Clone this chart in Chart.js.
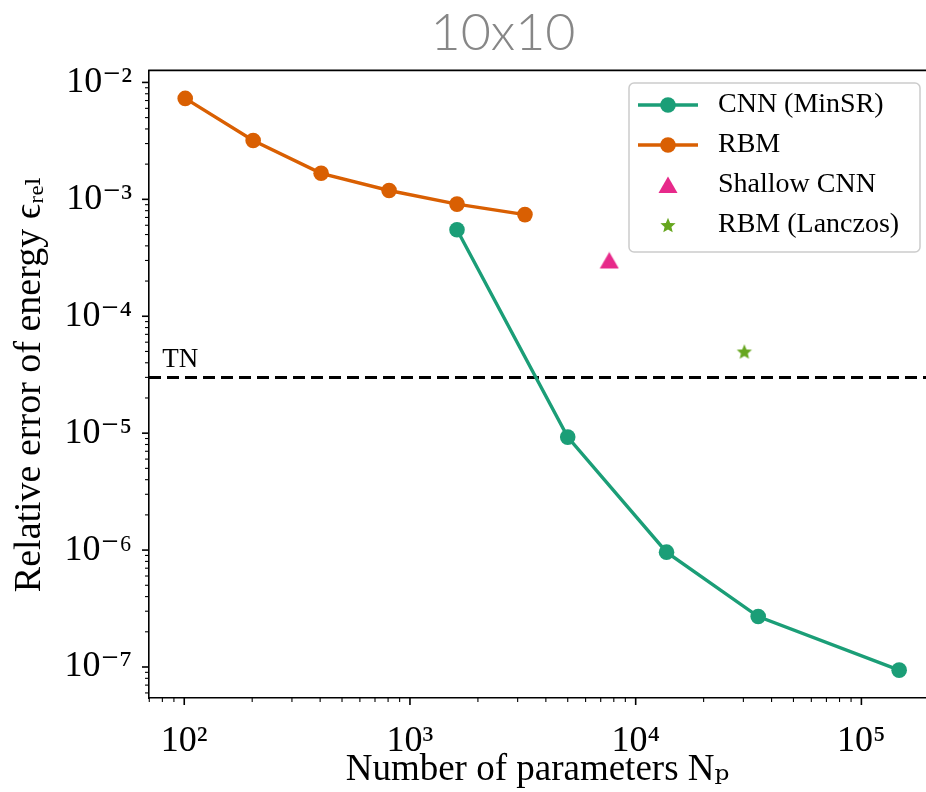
<!DOCTYPE html>
<html><head><meta charset="utf-8">
<script src="https://cdn.jsdelivr.net/npm/chart.js@4.4.0/dist/chart.umd.min.js"></script>
<style>
html,body{margin:0;padding:0;background:#fff;overflow:hidden;}
canvas{display:block;}
</style></head><body>
<canvas id="c" width="926" height="792" style="width:926px;height:792px;"></canvas>
<script>
// ---- data ----
const seriesNames = ['CNN (MinSR)', 'RBM', 'Shallow CNN', 'RBM (Lanczos)'];
const cnnParams = [1616, 5000, 13700, 34900, 147000];
const cnnError = [5.5e-4, 9.25e-6, 9.6e-7, 2.7e-7, 9.4e-8];
const rbmParams = [101, 202, 404, 808, 1616, 3232];
const rbmError = [7.3e-3, 3.19e-3, 1.67e-3, 1.19e-3, 9.1e-4, 7.4e-4];
const shallowParams = [7640];
const shallowError = [3.0e-4];
const lanczosParams = [30300];
const lanczosError = [5.0e-5];
const tnLabel = 'TN';
const tnError = 3e-5;
const xTickValues = [1e2, 1e3, 1e4, 1e5];
const xTickLabels = ['10²', '10³', '10⁴', '10⁵'];
const yTickValues = [1e-7, 1e-6, 1e-5, 1e-4, 1e-3, 1e-2];
const yTickLabels = ['10⁻⁷', '10⁻⁶', '10⁻⁵', '10⁻⁴', '10⁻³', '10⁻²'];
const xRange = [69.8, 193300];
const yRange = [5.43e-8, 1.267e-2];
const titleText = '10x10';
const xTitle = 'Number of parameters Nₚ';
const yTitle = 'Relative error of energy ϵᵣₑₗ';

const colors = ['#1b9e77', '#d95f02', '#e7298a', '#66a61e'];
const SERIF = '"Liberation Serif", "DejaVu Serif", serif';

function logTicks(majors, min, max) {
  const out = [];
  for (let d = majors[0] / 10; d <= majors[majors.length - 1] * 1.001; d *= 10) {
    for (let k = 1; k <= 9; k++) {
      const v = +(k * d).toPrecision(8);
      if (v >= min && v <= max) out.push({value: v, major: k === 1});
    }
  }
  return out;
}
function labelFor(values, labels, v) {
  for (let i = 0; i < values.length; i++) if (Math.abs(values[i] / v - 1) < 1e-6) return labels[i];
  return '';
}
function mk(w, h) { const c = document.createElement('canvas'); c.width = w; c.height = h; return c; }
function lineMarker(color) {
  const c = mk(62, 18), g = c.getContext('2d');
  g.strokeStyle = color; g.lineWidth = 3.4;
  g.beginPath(); g.moveTo(1, 9); g.lineTo(61, 9); g.stroke();
  g.fillStyle = color; g.beginPath(); g.arc(31, 9, 7.8, 0, Math.PI * 2); g.fill();
  return c;
}
function triMarker(color) {
  const c = mk(20, 18), g = c.getContext('2d');
  g.fillStyle = color; g.beginPath(); g.moveTo(10, 0.5); g.lineTo(19.5, 17); g.lineTo(0.5, 17); g.closePath(); g.fill();
  return c;
}
function starMarker(color) {
  const R = 8, r = R * 0.45, s = 18, c = mk(s, s), g = c.getContext('2d');
  g.fillStyle = color; g.translate(s / 2, s / 2 + 0.8); g.beginPath();
  for (let i = 0; i < 10; i++) {
    const a = -Math.PI / 2 + i * Math.PI / 5, rr = i % 2 ? r : R;
    const px = Math.cos(a) * rr, py = Math.sin(a) * rr;
    i ? g.lineTo(px, py) : g.moveTo(px, py);
  }
  g.closePath(); g.fill();
  return c;
}
const triImg = triMarker(colors[2]);
const starImg = starMarker(colors[3]);
const legendImgs = [lineMarker(colors[0]), lineMarker(colors[1]), triImg, starImg];

function placeBlocks(chart) {
  const lg = chart.legend;
  if (lg) {
    const w = lg.width;
    lg.left = 620; lg.top = 79; lg.right = Math.min(chart.width, lg.left + w + 30); lg.bottom = lg.top + 200;
  }
  const tb = chart.titleBlock;
  if (tb) { tb.left = 80; tb.right = chart.width; }
}

const decor = {
  id: 'decor',
  afterLayout(chart) { placeBlocks(chart); },
  beforeDraw(chart) {
    placeBlocks(chart);
    const ctx = chart.ctx;
    ctx.save();
    ctx.fillStyle = '#fff'; ctx.fillRect(0, 0, chart.width, chart.height);
    const lg = chart.legend;
    const x = lg.left + 9, y = lg.top + 4, w = 291, h = 169, r = 5;
    ctx.beginPath();
    ctx.moveTo(x + r, y); ctx.lineTo(x + w - r, y); ctx.arcTo(x + w, y, x + w, y + r, r);
    ctx.lineTo(x + w, y + h - r); ctx.arcTo(x + w, y + h, x + w - r, y + h, r);
    ctx.lineTo(x + r, y + h); ctx.arcTo(x, y + h, x, y + h - r, r);
    ctx.lineTo(x, y + r); ctx.arcTo(x, y, x + r, y, r); ctx.closePath();
    ctx.fillStyle = 'rgba(255,255,255,0.8)'; ctx.fill();
    ctx.strokeStyle = '#cccccc'; ctx.lineWidth = 1.5; ctx.stroke();
    ctx.restore();
  },
  afterDraw(chart) {
    const ctx = chart.ctx, {left, right, top, bottom} = chart.chartArea;
    const xs = chart.scales.x, ys = chart.scales.y;
    ctx.save();
    ctx.strokeStyle = '#000';
    ctx.lineWidth = 1.6;
    ctx.beginPath(); ctx.moveTo(left - 0.8, top); ctx.lineTo(right, top); ctx.stroke();
    xs.ticks.forEach(t => {
      const p = xs.getPixelForValue(t.value);
      ctx.lineWidth = t.major ? 1.6 : 1.1;
      ctx.beginPath(); ctx.moveTo(p, bottom); ctx.lineTo(p, bottom + (t.major ? 7 : 4)); ctx.stroke();
    });
    ys.ticks.forEach(t => {
      const p = ys.getPixelForValue(t.value);
      ctx.lineWidth = t.major ? 1.6 : 1.1;
      ctx.beginPath(); ctx.moveTo(left, p); ctx.lineTo(left - (t.major ? 7 : 4), p); ctx.stroke();
    });
    ctx.fillStyle = '#000';
    ctx.font = '27px ' + SERIF;
    ctx.textAlign = 'left'; ctx.textBaseline = 'alphabetic';
    ctx.fillText(tnLabel, xs.getPixelForValue(80), ys.getPixelForValue(tnError) - 10);
    ctx.restore();
  }
};

const pts = (xs, ys) => xs.map((x, i) => ({x, y: ys[i]}));

new Chart(document.getElementById('c'), {
  type: 'line',
  data: {
    datasets: [
      {label: seriesNames[0], data: pts(cnnParams, cnnError), borderColor: colors[0], backgroundColor: colors[0],
       borderWidth: 3.4, pointRadius: 7.8, pointHoverRadius: 7.8, pointBorderWidth: 0, tension: 0},
      {label: seriesNames[1], data: pts(rbmParams, rbmError), borderColor: colors[1], backgroundColor: colors[1],
       borderWidth: 3.4, pointRadius: 7.8, pointHoverRadius: 7.8, pointBorderWidth: 0, tension: 0},
      {label: seriesNames[2], data: pts(shallowParams, shallowError), showLine: false, pointStyle: triImg,
       pointRadius: 9, borderColor: colors[2], backgroundColor: colors[2]},
      {label: seriesNames[3], data: pts(lanczosParams, lanczosError), showLine: false, pointStyle: starImg,
       pointRadius: 8, borderColor: colors[3], backgroundColor: colors[3]},
      {label: tnLabel, data: [{x: xRange[0], y: tnError}, {x: xRange[1], y: tnError}], borderColor: '#000',
       borderWidth: 3, borderDash: [12, 6], pointRadius: 0, tension: 0}
    ]
  },
  options: {
    responsive: false, maintainAspectRatio: false, animation: false, events: [], devicePixelRatio: 1,
    layout: {autoPadding: false, padding: {left: 0, right: 0, top: 0, bottom: 0}},
    plugins: {
      title: {display: true, text: titleText, color: '#878787',
              font: {family: 'Lato', size: 52, weight: '300', lineHeight: 1.2}, padding: {top: 2, bottom: 6}},
      legend: {
        display: true, position: 'chartArea', align: 'start',
        labels: {
          usePointStyle: true, pointStyleWidth: 72, padding: 12, color: '#000',
          font: {family: SERIF, size: 28},
          generateLabels: () => seriesNames.map((name, i) => ({
            text: name, fillStyle: colors[i], strokeStyle: 'rgba(0,0,0,0)', lineWidth: 0,
            pointStyle: legendImgs[i], hidden: false, datasetIndex: i, fontColor: '#000'
          }))
        }
      },
      tooltip: {enabled: false}
    },
    scales: {
      x: {
        type: 'logarithmic', position: 'bottom', min: xRange[0], max: xRange[1],
        afterBuildTicks: s => { s.ticks = logTicks(xTickValues, xRange[0], xRange[1]); },
        afterFit: s => { s.height = 94; s.paddingRight = 0; s.paddingLeft = 0; },
        grid: {display: false, drawTicks: false},
        border: {display: true, color: '#000', width: 1.6},
        ticks: {autoSkip: false, maxRotation: 0, padding: 22, color: '#000', font: {family: SERIF, size: 36},
                callback: v => labelFor(xTickValues, xTickLabels, v)},
        title: {display: true, text: xTitle, color: '#000', font: {family: SERIF, size: 37}, padding: {top: 0, bottom: 0}}
      },
      y: {
        type: 'logarithmic', position: 'left', min: yRange[0], max: yRange[1],
        afterBuildTicks: s => { s.ticks = logTicks(yTickValues, yRange[0], yRange[1]); },
        afterFit: s => { s.width = 149; s.paddingTop = 0; s.paddingBottom = 0; },
        grid: {display: false, drawTicks: false},
        border: {display: true, color: '#000', width: 1.6},
        ticks: {autoSkip: false, padding: 17, color: '#000', font: {family: SERIF, size: 36},
                callback: v => labelFor(yTickValues, yTickLabels, v)},
        title: {display: true, text: yTitle, color: '#000', font: {family: SERIF, size: 38}, padding: {top: 7, bottom: 0}}
      }
    }
  },
  plugins: [decor]
});
</script>
</body></html>
